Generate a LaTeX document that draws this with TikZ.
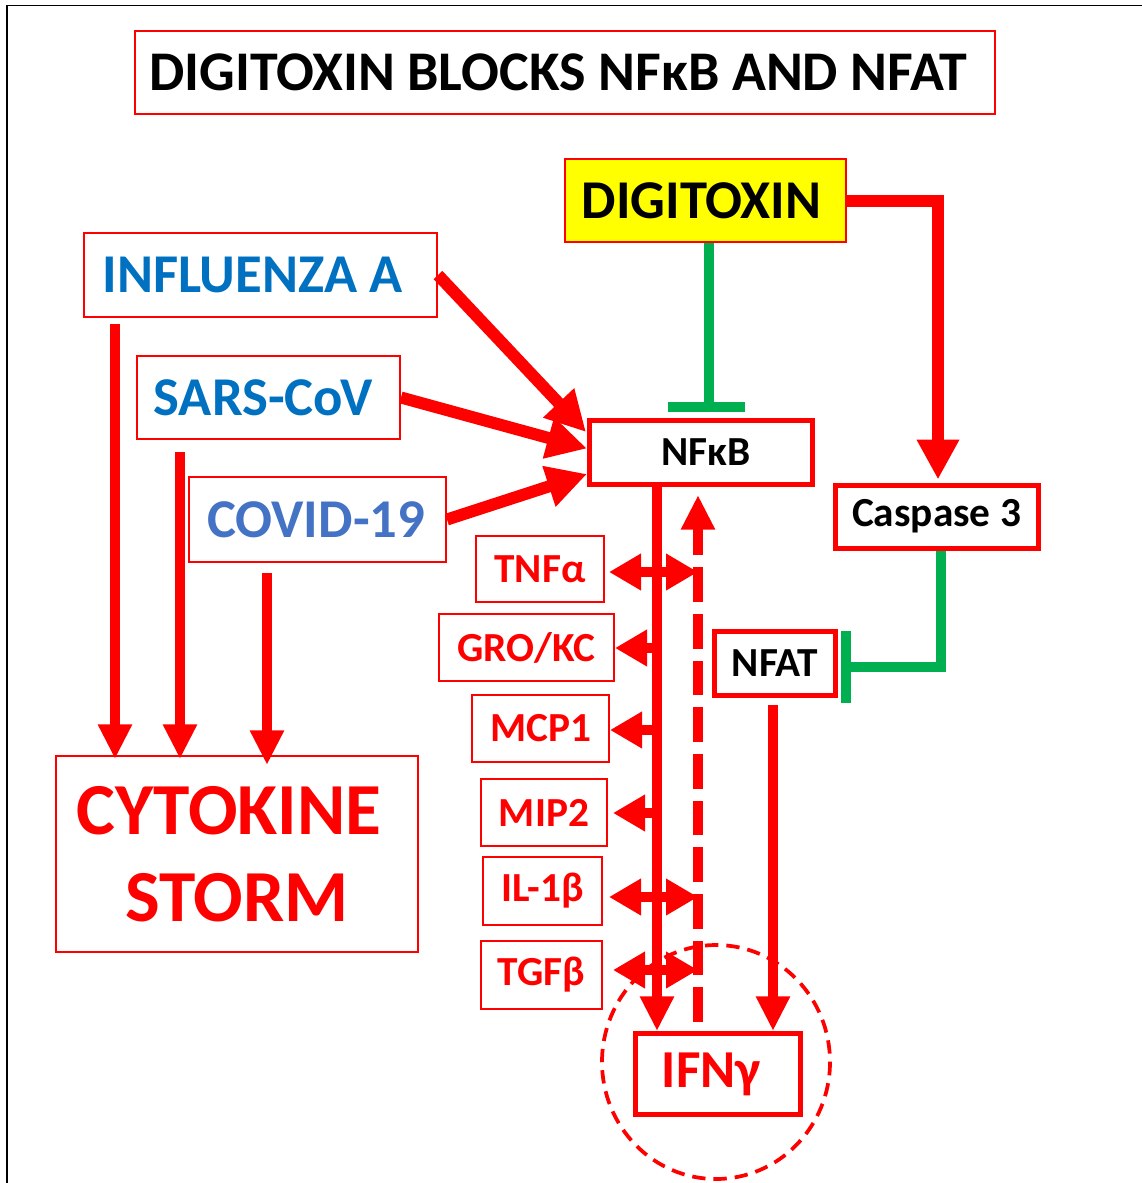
\documentclass[tikz,border=0pt]{standalone}
\usepackage{fontspec}
\setmainfont{Carlito}
\usetikzlibrary{arrows.meta,calc}
\definecolor{rd}{RGB}{255,0,0}
\definecolor{bl}{RGB}{0,112,192}
\definecolor{bl2}{RGB}{68,114,196}
\definecolor{gr}{RGB}{0,176,80}
\definecolor{yl}{RGB}{255,255,0}
\tikzset{
  sz/.style 2 args={minimum width=#1*0.75pt, minimum height=#2*0.75pt},
  thinbox/.style={draw=rd, line width=1.5pt, inner sep=0pt, rectangle},
  thickbox/.style={draw=rd, line width=3.75pt, inner sep=0pt, rectangle},
  bigarr/.style={draw=rd, line width=9pt, -{Triangle[length=30pt,width=30pt]}},
  downarr/.style={draw=rd, line width=8pt, -{Triangle[length=26pt,width=24pt]}},
  midarr/.style={draw=rd, line width=7.5pt, -{Triangle[length=26pt,width=24pt]}},
  dasharr/.style={draw=rd, line width=7.5pt, dash pattern=on 26pt off 9pt, -{Triangle[length=26pt,width=24pt]}},
  cytarr/.style={draw=rd, line width=7pt, -{Triangle[length=24pt,width=26pt]}},
  cytdbl/.style={draw=rd, line width=7pt, {Triangle[length=24pt,width=26pt]}-{Triangle[length=24pt,width=26pt]}},
  inh/.style={draw=gr, line width=7.5pt},
}
\begin{document}
\begin{tikzpicture}[x=0.75pt,y=-0.75pt, font=\bfseries]
\useasboundingbox (0,0) rectangle (1142,1183);
% outer frame
\draw[black, line width=1pt] (7,1183) -- (7,5.5) -- (1142,5.5);

% nodes
\node[thinbox, sz={860}{83}, font=\fontsize{42}{48}\selectfont\bfseries] (title) at (565,72.5) {\hspace*{-10pt}DIGITOXIN BLOCKS NFκB AND NFAT};
\node[thinbox, fill=yl, sz={281}{83}, font=\fontsize{41}{46}\selectfont\bfseries] (dig) at (705.5,200.5) {\hspace*{-6pt}DIGITOXIN};
\node[thinbox, sz={353}{84}, text=bl, font=\fontsize{41}{46}\selectfont\bfseries] (infl) at (260.5,275) {INFLUENZA A\hspace*{12pt}};
\node[thinbox, sz={263}{83}, text=bl, font=\fontsize{41}{46}\selectfont\bfseries] (sars) at (268.5,397.5) {SARS-CoV\hspace*{8pt}};
\node[thinbox, sz={257}{85}, text=bl2, font=\fontsize{41}{46}\selectfont\bfseries] (covid) at (317.5,519.5) {COVID-19\hspace*{2pt}};
\node[thickbox, sz={223}{64}, font=\fontsize{31}{36}\selectfont\bfseries] (nfkb) at (701,452.5) {\hspace*{8pt}NFκB};
\node[thickbox, sz={203}{63}, font=\fontsize{31}{36}\selectfont\bfseries] (casp) at (936.5,516.5) {Caspase 3};
\node[thickbox, sz={121}{64}, font=\fontsize{31}{36}\selectfont\bfseries] (nfat) at (775,663.5) {NFAT};
\node[thinbox, sz={128}{66}, text=rd, font=\fontsize{31}{36}\selectfont\bfseries] (tnf) at (540,569) {TNFα};
\node[thinbox, sz={175}{67}, text=rd, font=\fontsize{31}{36}\selectfont\bfseries] (gro) at (526.5,647.5) {GRO/KC};
\node[thinbox, sz={137}{67}, text=rd, font=\fontsize{31}{36}\selectfont\bfseries] (mcp) at (540.5,728.5) {MCP1};
\node[thinbox, sz={126}{67}, text=rd, font=\fontsize{31}{36}\selectfont\bfseries] (mip) at (544,812.5) {MIP2};
\node[thinbox, sz={119}{68}, text=rd, font=\fontsize{31}{36}\selectfont\bfseries] (il) at (542.5,891) {IL-1β};
\node[thinbox, sz={121}{68}, text=rd, font=\fontsize{31}{36}\selectfont\bfseries] (tgf) at (541.5,975) {TGFβ};
\node[thinbox, sz={362}{196}, text=rd, align=center, font=\fontsize{55}{65}\selectfont\bfseries] (storm) at (237,854) {CYTOKINE\hspace*{12pt}\\STORM};
\node[thickbox, sz={165}{81}, text=rd, font=\fontsize{40}{44}\selectfont\bfseries] (ifn) at (718,1074) {IFNγ\hspace*{10pt}};
\draw[rd, line width=2.8pt, dash pattern=on 10pt off 6pt] (716,1062) ellipse [x radius=114, y radius=117];

% virus -> NFkB
\draw[bigarr] (infl.east) -- ($(nfkb.north west)+(-1,14)$);
\draw[bigarr] (sars.east) -- ($(nfkb.west)+(0,-4)$);
\draw[bigarr] (covid.east) -- ($(nfkb.south west)+(0,-13)$);

% virus -> storm
\coordinate (i1) at ($(infl.south)+(-145.5,6)$);
\coordinate (s1) at ($(sars.south)+(-88.5,12)$);
\coordinate (c1) at ($(covid.south)+(-50.5,10)$);
\draw[downarr] (i1) -- ($(i1 |- storm.north)+(0,4)$);
\draw[downarr] (s1) -- ($(s1 |- storm.north)+(0,4)$);
\draw[downarr] (c1) -- ($(c1 |- storm.north)+(0,10)$);

% digitoxin -> caspase
\coordinate (k1) at ($(casp.north)+(1.5,-3)$);
\draw[bigarr] (dig.east) -| (k1);

% inhibitions
\coordinate (g0) at ($(dig.south)+(3.5,0)$);
\coordinate (g0e) at ($(nfkb.north)+(8,-6)$);
\draw[inh] (g0) -- (g0 |- g0e);
\draw[gr, line width=7.5pt] ($(g0 |- g0e)+(-41,-5)$) -- ($(g0 |- g0e)+(36,-5)$);
\coordinate (h0) at ($(casp.south)+(4.5,0)$);
\coordinate (h1) at ($(nfat.east)+(8,3.5)$);
\draw[inh] (h0) |- (h1);
\draw[gr, line width=7.5pt] ($(h1)+(0,-36)$) -- ($(h1)+(0,36)$);

% NFkB -> IFN (solid), IFN -> NFkB (dashed)
\coordinate (v1) at ($(nfkb.south)+(-44,0)$);
\draw[midarr] (v1) -- (v1 |- ifn.north);
\coordinate (d1) at ($(ifn.north)+(-20,-9)$);
\coordinate (d2) at ($(nfkb.south)+(-3,8)$);
\draw[dasharr] (d1) -- (d1 |- d2);

% NFAT -> IFN
\coordinate (n1) at ($(nfat.south)+(-2,7)$);
\draw[midarr] (n1) -- (n1 |- ifn.north);

% cytokines
\coordinate (t1) at ($(tnf.east)+(4,3)$);
\draw[cytdbl] (t1) -- (t1 -| d1);
\coordinate (gk) at ($(gro.east)+(0,0.5)$);
\draw[cytarr] (gk -| v1) -- (gk);
\coordinate (mc) at ($(mcp.east)+(0,1.5)$);
\draw[cytarr] (mc -| v1) -- (mc);
\coordinate (mi) at ($(mip.east)+(5,0.5)$);
\draw[cytarr] (mi -| v1) -- (mi);
\coordinate (ib) at ($(il.east)+(6,6)$);
\draw[cytdbl] (ib) -- (ib -| d1);
\coordinate (tg) at ($(tgf.east)+(10,-5)$);
\draw[cytdbl] (tg) -- (tg -| d1);
\end{tikzpicture}
\end{document}
